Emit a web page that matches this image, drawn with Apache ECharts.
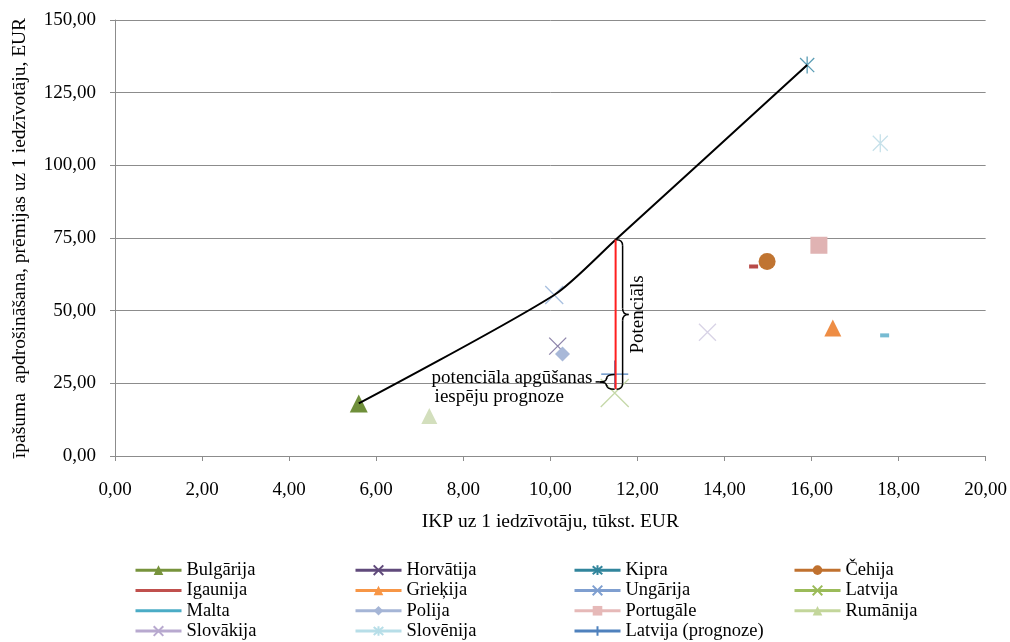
<!DOCTYPE html>
<html><head><meta charset="utf-8">
<script src="https://cdn.jsdelivr.net/npm/echarts@6/dist/echarts.min.js"></script>
<style>html,body{margin:0;padding:0;background:#fff}#c{width:1010px;height:642px}</style>
</head><body><div id="c"></div>
<script>
// ---- data ----
const countries = ['Bulgārija','Horvātija','Kipra','Čehija','Igaunija','Grieķija','Ungārija','Latvija','Malta','Polija','Portugāle','Rumānija','Slovākija','Slovēnija','Latvija (prognoze)'];
const ikp =      [5.60, 10.17, 15.90, 14.98, 14.67, 16.49, 10.09, 11.48, 17.68, 10.28, 16.17, 7.22, 13.61, 17.58, 11.48];
const premijas = [18.1, 37.8, 134.5, 66.9, 65.2, 44.0, 55.4, 21.7, 41.5, 35.1, 72.5, 13.8, 42.6, 107.6, 28.2];
const trendX = [5.60, 10.09, 11.50, 15.90];
const trendY = [18.1, 55.4, 74.4, 134.5];
const potentialX = [11.50, 11.50];
const potentialY = [74.4, 23.0];
const forecastBraceY = [28.0, 23.0];
const xTickLabels = ['0,00','2,00','4,00','6,00','8,00','10,00','12,00','14,00','16,00','18,00','20,00'];
const yTickLabels = ['0,00','25,00','50,00','75,00','100,00','125,00','150,00'];
const xName = 'IKP uz 1 iedzīvotāju, tūkst. EUR';
const yName = 'īpašuma  apdrošināšana, prēmijas uz 1 iedzīvotāju, EUR';
const braceText = 'Potenciāls';
const forecastText = ['potenciāla apgūšanas', 'iespēju prognoze'];

// ---- styles ----
const FONT = '"Liberation Serif","Times New Roman",serif';
const X = 'path://M0,0L10,10M10,0L0,10';
const STAR = 'path://M0,0L10,10M10,0L0,10M5,-1L5,11';
const PLUS = 'path://M0,5L10,5M5,0L5,10';
const DASH = 'rect';
const legendColors = ['#77933c','#604a7b','#31859c','#c0712f','#c0504d','#f79646','#7f9fd0','#9bbb59','#4bacc6','#a5b5d6','#e6b9b8','#c3d69b','#b8a9cf','#b7dee8','#4f81bd'];
const markerColors = ['#6f8f3a','#8d84aa','#5b9db5','#c07431','#b94a48','#ee8d45','#a7bfdf','#c5d8a8','#77bbd2','#a8b8d8','#e0b3b3','#d3dfbd','#d8d3e6','#c6e1ea','#4f81bd'];
const symbols = ['triangle', X, STAR, 'circle', DASH, 'triangle', X, X, DASH, 'diamond', 'rect', 'triangle', X, STAR, PLUS];
const sizes = [18, 17, 17, 17, [9,4], 17, 18, 28, [9,4], 15, 17, 16, 17, 18, 27];
const stroked = [false, true, true, false, false, false, true, true, false, false, false, false, true, true, true];
const isDash = [false, false, false, false, true, false, false, false, true, false, false, false, false, false, false];

const chart = echarts.init(document.getElementById('c'), null, {renderer: 'canvas'});

const countrySeries = countries.map((name, i) => ({
  name: name,
  type: 'line',
  data: [{
    value: [ikp[i], premijas[i]],
    itemStyle: {color: stroked[i] ? 'rgba(0,0,0,0)' : markerColors[i], borderColor: markerColors[i], borderWidth: stroked[i] ? 1.3 : 0}
  }],
  symbol: symbols[i],
  symbolSize: sizes[i],
  symbolKeepAspect: !isDash[i],
  showSymbol: true,
  lineStyle: {color: legendColors[i], width: 3},
  itemStyle: {color: stroked[i] ? 'rgba(0,0,0,0)' : legendColors[i], borderColor: legendColors[i], borderWidth: stroked[i] ? 1.5 : 0},
  emphasis: {disabled: true},
  z: i === 14 ? 3 : 4,
  animation: false
}));

function brace(xPx, yT, yB, dir, endOff, spineOff, tipOff, r) {
  const yM = (yT + yB) / 2;
  const x0 = xPx + dir * endOff, s = xPx + dir * spineOff, t = xPx + dir * tipOff;
  const st = {stroke: '#000', fill: null, lineWidth: 1.5};
  return [
    {type: 'bezierCurve', shape: {x1: x0, y1: yT, cpx1: s, cpy1: yT, x2: s, y2: yT + r}, style: st},
    {type: 'line', shape: {x1: s, y1: yT + r, x2: s, y2: yM - r}, style: st},
    {type: 'bezierCurve', shape: {x1: s, y1: yM - r, cpx1: s, cpy1: yM, x2: t, y2: yM}, style: st},
    {type: 'bezierCurve', shape: {x1: t, y1: yM, cpx1: s, cpy1: yM, x2: s, y2: yM + r}, style: st},
    {type: 'line', shape: {x1: s, y1: yM + r, x2: s, y2: yB - r}, style: st},
    {type: 'bezierCurve', shape: {x1: s, y1: yB - r, cpx1: s, cpy1: yB, x2: x0, y2: yB}, style: st}
  ];
}

const option = {
  backgroundColor: '#fff',
  animation: false,
  grid: {left: 115, right: 23, top: 20, bottom: 186, containLabel: false},
  xAxis: {
    type: 'value', min: 0, max: 20, interval: 2,
    name: xName, nameLocation: 'middle', nameGap: 56,
    nameTextStyle: {fontFamily: FONT, fontSize: 19.5, color: '#000'},
    axisLine: {show: true, lineStyle: {color: '#8c8c8c', width: 1}},
    axisTick: {show: true, inside: false, length: 5, lineStyle: {color: '#8c8c8c'}},
    axisLabel: {margin: 25, fontFamily: FONT, fontSize: 19, color: '#000',
      formatter: (v) => xTickLabels[Math.round(v / 2)]},
    splitLine: {show: false}
  },
  yAxis: {
    type: 'value', min: 0, max: 150, interval: 25,
    name: yName, nameLocation: 'middle', nameGap: 85, nameRotate: 90,
    nameTextStyle: {fontFamily: FONT, fontSize: 19.5, color: '#000'},
    axisLine: {show: true, lineStyle: {color: '#8c8c8c', width: 1}},
    axisTick: {show: true, inside: false, length: 5, lineStyle: {color: '#8c8c8c'}},
    axisLabel: {margin: 19, fontFamily: FONT, fontSize: 19, color: '#000',
      formatter: (v) => yTickLabels[Math.round(v / 25)]},
    splitLine: {show: true, lineStyle: {color: '#8c8c8c', width: 1}}
  },
  legend: [
    [0, 4, 8, 12], [1, 5, 9, 13], [2, 6, 10, 14], [3, 7, 11]
  ].map((idx, col) => ({
    orient: 'vertical',
    left: [134, 354, 573, 793][col],
    top: 560,
    height: 82,
    itemWidth: 46, itemHeight: 12, itemGap: 0,
    padding: 0,
    selectedMode: false,
    lineStyle: {width: 3},
    textStyle: {fontFamily: FONT, fontSize: 18.5, color: '#000', lineHeight: 20.3},
    data: idx.map(i => (isDash[i] ? {name: countries[i], itemStyle: {opacity: 0}} : {name: countries[i]}))
  })),
  series: countrySeries.concat([
    {
      name: 'trend', type: 'line', data: trendX.map((x, i) => [x, trendY[i]]),
      smooth: 0.25, symbol: 'none', lineStyle: {color: '#000', width: 2}, z: 5,
      emphasis: {disabled: true}, silent: true
    },
    {
      name: 'potential', type: 'line', data: potentialX.map((x, i) => [x, potentialY[i]]),
      symbol: 'none', lineStyle: {color: '#ff1f1f', width: 2}, z: 6,
      emphasis: {disabled: true}, silent: true
    },
    {
      name: 'braces', type: 'custom', silent: true, z: 7,
      data: [[potentialX[0], potentialY[0], potentialY[1], 0], [potentialX[0], forecastBraceY[0], forecastBraceY[1], 1]],
      renderItem: function (params, api) {
        const top = api.coord([api.value(0), api.value(1)]);
        const bot = api.coord([api.value(0), api.value(2)]);
        const kind = api.value(3);
        const yM = (top[1] + bot[1]) / 2;
        const f = '19px ' + FONT;
        if (kind === 0) {
          const ch = brace(top[0], top[1], bot[1], 1, 1, 7, 13, 6);
          ch.push({type: 'text', x: top[0] + 22, y: yM, rotation: Math.PI / 2,
            style: {text: braceText, x: 0, y: 0, font: f, fill: '#000', align: 'center', verticalAlign: 'middle'}});
          return {type: 'group', children: ch};
        } else {
          const ch = brace(top[0], top[1], bot[1], -1, 1, 9, 16, 4);
          const tipX = top[0] - 16;
          ch.push({type: 'line', shape: {x1: tipX - 4, y1: yM, x2: tipX, y2: yM}, style: {stroke: '#000', lineWidth: 1.5}});
          ch.push({type: 'text', style: {text: forecastText[0], x: tipX - 168, y: yM - 4, font: f, fill: '#000', align: 'left', verticalAlign: 'middle'}});
          ch.push({type: 'text', style: {text: forecastText[1], x: tipX - 165, y: yM + 15, font: f, fill: '#000', align: 'left', verticalAlign: 'middle'}});
          return {type: 'group', children: ch};
        }
      }
    }
  ])
};
chart.setOption(option);
</script>
</body></html>
